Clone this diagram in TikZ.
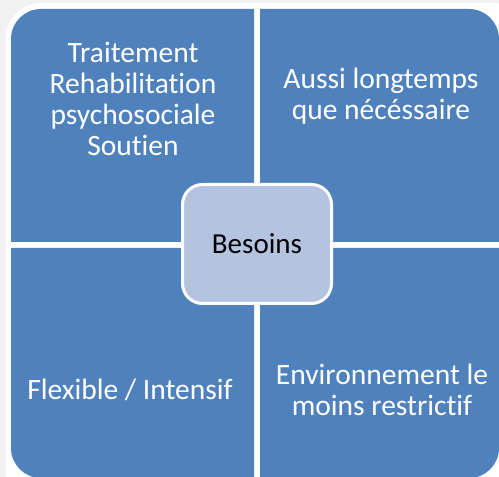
\documentclass[tikz,border=0pt]{standalone}
\usepackage{fontspec}
\setmainfont{Carlito}[Ligatures=NoCommon]
\definecolor{pagegray}{HTML}{F2F2F2}
\definecolor{tileblue}{HTML}{4F81BD}
\definecolor{hubblue}{HTML}{B4C4E0}
\tikzset{
  tile/.style={fill=tileblue},
  tiletext/.style={text=white, align=center, inner sep=0pt,
    font=\fontsize{29.5}{31}\selectfont},
  hub/.style={fill=hubblue, draw=white, line width=3pt, rounded corners=20pt},
  hubtext/.style={text=black, inner sep=0pt, font=\fontsize{29}{31}\selectfont}
}
\begin{document}
\begin{tikzpicture}[x=1pt, y=1pt]
  \useasboundingbox (0,0) rectangle (499,477);
  \clip (0,0) rectangle (499,477);
  % page and white frame
  \fill[pagegray] (0,0) rectangle (499,477);
  \fill[white, rounded corners=36pt] (5.5,-30) rectangle (530,474);
  % the four quadrants
  \fill[tile] (254,235) -- (11,235) -- (11,438)
    arc[start angle=180, end angle=90, radius=30] -- (254,468) -- cycle;
  \fill[tile] (260,235) -- (260,468) -- (469,468)
    arc[start angle=90, end angle=0, radius=30] -- (499,235) -- cycle;
  \fill[tile] (254,229) -- (11,229) -- (11,29)
    arc[start angle=180, end angle=270, radius=30] -- (254,-1) -- cycle;
  \fill[tile] (260,229) -- (499,229) -- (499,29)
    arc[start angle=0, end angle=-90, radius=30] -- (260,-1) -- cycle;
  % quadrant labels
  \node[tiletext] (care) at (133,378) {Traitement\\Rehabilitation\\psychosociale\\Soutien};
  \node[tiletext] (duration) at (381,381) {Aussi longtemps\\que nécéssaire};
  \node[tiletext] (intensity) at (130,87) {Flexible / Intensif};
  \node[tiletext] (setting) at (382,87) {Environnement le\\moins restrictif};
  % central hub
  \draw[hub] (182.5,173.5) rectangle (331.5,292.5);
  \node[hubtext] (needs) at (257,233) {Besoins};
\end{tikzpicture}
\end{document}
